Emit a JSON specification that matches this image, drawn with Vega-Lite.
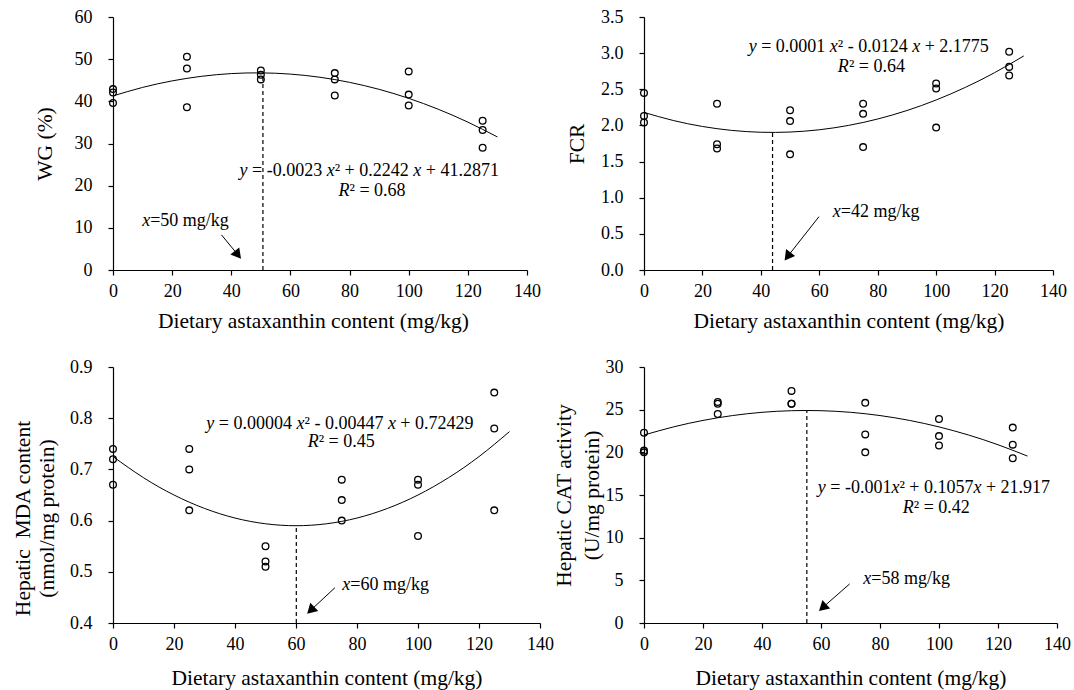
{
  "$schema": "https://vega.github.io/schema/vega-lite/v6.json",
  "background": "white",
  "padding": {"left": 12, "top": 8, "right": 3, "bottom": 3},
  "config": {
    "view": {"stroke": null},
    "font": "Liberation Serif",
    "axis": {"domainColor": "black", "tickColor": "black", "labelColor": "black", "titleColor": "black", "labelFont": "Liberation Serif", "titleFont": "Liberation Serif", "labelFontSize": 18, "titleFontSize": 21.5, "titleFontWeight": "normal", "grid": false, "tickSize": 5, "domainWidth": 1.2, "tickWidth": 1.2, "titleLineHeight": 27},
    "axisX": {"labelPadding": 7, "titlePadding": 10, "labelAngle": 0, "labelFlush": false},
    "axisY": {"labelPadding": 16, "titlePadding": 14},
    "text": {"font": "Liberation Serif", "fontSize": 18, "color": "black"}
  },
  "datasets": {
    "wg_pts": [{"x":0,"y":42.9},{"x":0,"y":42.1},{"x":0,"y":39.6},{"x":25,"y":50.6},{"x":25,"y":47.8},{"x":25,"y":38.6},{"x":50,"y":47.3},{"x":50,"y":46.3},{"x":50,"y":45.2},{"x":75,"y":46.7},{"x":75,"y":45.2},{"x":75,"y":41.4},{"x":100,"y":47.1},{"x":100,"y":41.6},{"x":100,"y":39.0},{"x":125,"y":35.4},{"x":125,"y":33.2},{"x":125,"y":29.0}],
    "wg_curve": [{"x":0,"y":41.29},{"x":10,"y":43.30},{"x":20,"y":44.85},{"x":30,"y":45.94},{"x":40,"y":46.58},{"x":50,"y":46.75},{"x":60,"y":46.46},{"x":70,"y":45.71},{"x":80,"y":44.50},{"x":90,"y":42.84},{"x":100,"y":40.71},{"x":110,"y":38.12},{"x":120,"y":35.07},{"x":130,"y":31.56}],
    "wg_drop": [{"x":50.7,"y":0,"y2":46.74}],
    "wg_arrow": [{"x":36.66,"y":8.35,"x2":42.24,"y2":3.60}],
    "wg_head": [{"x":42.24,"y":3.60}],
    "wg_it": [{"x":42.8,"y":23.45,"t":"y"},{"x":72.27,"y":23.45,"t":"x"},{"x":101.53,"y":23.45,"t":"x"},{"x":76.26,"y":18.68,"t":"R"},{"x":9.87,"y":11.53,"t":"x"}],
    "wg_tx": [{"x":47.02,"y":23.45,"t":"= -0.0023"},{"x":74.97,"y":23.45,"t":"² + 0.2242"},{"x":105.76,"y":23.45,"t":"+ 41.2871"},{"x":79.98,"y":18.68,"t":"² = 0.68"},{"x":12.57,"y":11.53,"t":"=50 mg/kg"}],

    "fcr_pts": [{"x":0,"y":2.45},{"x":0,"y":2.13},{"x":0,"y":2.04},{"x":25,"y":2.30},{"x":25,"y":1.74},{"x":25,"y":1.68},{"x":50,"y":2.21},{"x":50,"y":2.06},{"x":50,"y":1.60},{"x":75,"y":2.30},{"x":75,"y":2.16},{"x":75,"y":1.70},{"x":100,"y":2.58},{"x":100,"y":2.51},{"x":100,"y":1.97},{"x":125,"y":3.02},{"x":125,"y":2.81},{"x":125,"y":2.69}],
    "fcr_curve": [{"x":0,"y":2.18},{"x":10,"y":2.0685},{"x":20,"y":1.9856},{"x":30,"y":1.9313},{"x":40,"y":1.9056},{"x":50,"y":1.9085},{"x":60,"y":1.94},{"x":70,"y":2.0001},{"x":80,"y":2.0888},{"x":90,"y":2.2061},{"x":100,"y":2.352},{"x":110,"y":2.5265},{"x":120,"y":2.7296},{"x":130,"y":2.9613}],
    "fcr_drop": [{"x":44.0,"y":0,"y2":1.905}],
    "fcr_arrow": [{"x":59.9,"y":0.738,"x2":49.16,"y2":0.187}],
    "fcr_head": [{"x":49.16,"y":0.187}],
    "fcr_it": [{"x":35.82,"y":3.086,"t":"y"},{"x":63.60,"y":3.086,"t":"x"},{"x":91.80,"y":3.086,"t":"x"},{"x":66.36,"y":2.812,"t":"R"},{"x":64.6,"y":0.807,"t":"x"}],
    "fcr_tx": [{"x":40.10,"y":3.086,"t":"= 0.0001"},{"x":66.34,"y":3.086,"t":"² - 0.0124"},{"x":96.08,"y":3.086,"t":"+ 2.1775"},{"x":70.13,"y":2.812,"t":"² = 0.64"},{"x":67.34,"y":0.807,"t":"=42 mg/kg"}],

    "mda_pts": [{"x":0,"y":0.74},{"x":0,"y":0.72},{"x":0,"y":0.67},{"x":25,"y":0.74},{"x":25,"y":0.70},{"x":25,"y":0.62},{"x":50,"y":0.55},{"x":50,"y":0.52},{"x":50,"y":0.51},{"x":75,"y":0.68},{"x":75,"y":0.64},{"x":75,"y":0.60},{"x":100,"y":0.68},{"x":100,"y":0.67},{"x":100,"y":0.57},{"x":125,"y":0.85},{"x":125,"y":0.78},{"x":125,"y":0.62}],
    "mda_curve": [{"x":0,"y":0.725},{"x":10,"y":0.6838},{"x":20,"y":0.65},{"x":30,"y":0.6238},{"x":40,"y":0.605},{"x":50,"y":0.5938},{"x":60,"y":0.59},{"x":70,"y":0.5938},{"x":80,"y":0.605},{"x":90,"y":0.6238},{"x":100,"y":0.65},{"x":110,"y":0.6838},{"x":120,"y":0.725},{"x":130,"y":0.7738}],
    "mda_drop": [{"x":60.1,"y":0.4,"y2":0.59}],
    "mda_arrow": [{"x":72.78,"y":0.469,"x2":64.82,"y2":0.4249}],
    "mda_head": [{"x":64.82,"y":0.4249}],
    "mda_it": [{"x":30.61,"y":0.789,"t":"y"},{"x":60.16,"y":0.789,"t":"x"},{"x":90.13,"y":0.789,"t":"x"},{"x":63.82,"y":0.753,"t":"R"},{"x":75.16,"y":0.474,"t":"x"}],
    "mda_tx": [{"x":34.71,"y":0.789,"t":"= 0.00004"},{"x":62.79,"y":0.789,"t":"² - 0.00447"},{"x":94.22,"y":0.789,"t":"+ 0.72429"},{"x":67.43,"y":0.753,"t":"² = 0.45"},{"x":77.78,"y":0.474,"t":"=60 mg/kg"}],

    "cat_pts": [{"x":0,"y":22.3},{"x":0,"y":20.2},{"x":0,"y":20.0},{"x":25,"y":25.9},{"x":25,"y":25.7},{"x":25,"y":24.5},{"x":50,"y":27.2},{"x":50,"y":25.7},{"x":50,"y":25.7},{"x":75,"y":25.8},{"x":75,"y":22.1},{"x":75,"y":20.0},{"x":100,"y":23.9},{"x":100,"y":21.9},{"x":100,"y":20.8},{"x":125,"y":22.9},{"x":125,"y":20.9},{"x":125,"y":19.3}],
    "cat_curve": [{"x":0,"y":22.03},{"x":10,"y":22.98},{"x":20,"y":23.74},{"x":30,"y":24.31},{"x":40,"y":24.69},{"x":50,"y":24.88},{"x":60,"y":24.88},{"x":70,"y":24.69},{"x":80,"y":24.31},{"x":90,"y":23.74},{"x":100,"y":22.98},{"x":110,"y":22.03},{"x":120,"y":20.89},{"x":130,"y":19.56}],
    "cat_drop": [{"x":55.2,"y":0,"y2":24.9}],
    "cat_arrow": [{"x":69.71,"y":4.58,"x2":60.55,"y2":1.80}],
    "cat_head": [{"x":60.55,"y":1.80}],
    "cat_it": [{"x":58.9,"y":15.83,"t":"y"},{"x":83.86,"y":15.83,"t":"x"},{"x":111.67,"y":15.83,"t":"x"},{"x":87.72,"y":13.50,"t":"R"},{"x":74.36,"y":5.16,"t":"x"}],
    "cat_tx": [{"x":63.13,"y":15.83,"t":"= -0.001"},{"x":86.57,"y":15.83,"t":"² + 0.1057"},{"x":115.91,"y":15.83,"t":"+ 21.917"},{"x":91.45,"y":13.50,"t":"² = 0.42"},{"x":77.07,"y":5.16,"t":"=58 mg/kg"}]
  },
  "spacing": -1,
  "hconcat": [
    {
      "bounds": "flush",
      "spacing": 97,
      "vconcat": [
        {
          "width": 414, "height": 253,
          "encoding": {
            "x": {"field": "x", "type": "quantitative", "scale": {"domain": [0, 140], "nice": false}, "axis": {"values": [0,20,40,60,80,100,120,140], "title": "Dietary astaxanthin content (mg/kg)", "titleX": 200}},
            "y": {"field": "y", "type": "quantitative", "scale": {"domain": [0, 60], "nice": false}, "axis": {"values": [0,10,20,30,40,50,60], "title": "WG (%)", "titlePadding": 18}}
          },
          "layer": [
            {"data": {"name": "wg_curve"}, "mark": {"type": "line", "color": "black", "strokeWidth": 1, "interpolate": "natural"}},
            {"data": {"name": "wg_drop"}, "mark": {"type": "rule", "color": "black", "strokeDash": [4, 3], "strokeWidth": 1.2}, "encoding": {"y2": {"field": "y2"}}},
            {"data": {"name": "wg_arrow"}, "mark": {"type": "rule", "color": "black", "strokeWidth": 1}, "encoding": {"x2": {"field": "x2"}, "y2": {"field": "y2"}}},
            {"data": {"name": "wg_head"}, "mark": {"type": "point", "shape": "triangle-up", "filled": true, "color": "black", "opacity": 1, "size": 130, "angle": 141}},
            {"data": {"name": "wg_pts"}, "mark": {"type": "point", "shape": "circle", "filled": false, "color": "black", "opacity": 1, "size": 45, "strokeWidth": 1.3}},
            {"data": {"name": "wg_it"}, "mark": {"type": "text", "align": "left", "baseline": "middle", "fontStyle": "italic"}, "encoding": {"text": {"field": "t"}}},
            {"data": {"name": "wg_tx"}, "mark": {"type": "text", "align": "left", "baseline": "middle"}, "encoding": {"text": {"field": "t"}}}
          ]
        },
        {
          "width": 427, "height": 256,
          "encoding": {
            "x": {"field": "x", "type": "quantitative", "scale": {"domain": [0, 140], "nice": false}, "axis": {"values": [0,20,40,60,80,100,120,140], "title": "Dietary astaxanthin content (mg/kg)", "titlePadding": 14}},
            "y": {"field": "y", "type": "quantitative", "scale": {"domain": [0.4, 0.9], "nice": false, "zero": false}, "axis": {"values": [0.4,0.5,0.6,0.7,0.8,0.9], "format": ".1f", "title": ["Hepatic\u00a0 MDA content", "(nmol/mg protein)"], "titleY": 151, "titlePadding": 11.5, "titleLineHeight": 24}}
          },
          "layer": [
            {"data": {"name": "mda_curve"}, "mark": {"type": "line", "color": "black", "strokeWidth": 1, "interpolate": "natural"}},
            {"data": {"name": "mda_drop"}, "mark": {"type": "rule", "color": "black", "strokeDash": [4, 3], "strokeWidth": 1.2}, "encoding": {"y2": {"field": "y2"}}},
            {"data": {"name": "mda_arrow"}, "mark": {"type": "rule", "color": "black", "strokeWidth": 1}, "encoding": {"x2": {"field": "x2"}, "y2": {"field": "y2"}}},
            {"data": {"name": "mda_head"}, "mark": {"type": "point", "shape": "triangle-up", "filled": true, "color": "black", "opacity": 1, "size": 130, "angle": 226}},
            {"data": {"name": "mda_pts"}, "mark": {"type": "point", "shape": "circle", "filled": false, "color": "black", "opacity": 1, "size": 45, "strokeWidth": 1.3}},
            {"data": {"name": "mda_it"}, "mark": {"type": "text", "align": "left", "baseline": "middle", "fontStyle": "italic"}, "encoding": {"text": {"field": "t"}}},
            {"data": {"name": "mda_tx"}, "mark": {"type": "text", "align": "left", "baseline": "middle"}, "encoding": {"text": {"field": "t"}}}
          ]
        }
      ]
    },
    {
      "bounds": "flush",
      "spacing": 97,
      "vconcat": [
        {
          "width": 409, "height": 253,
          "encoding": {
            "x": {"field": "x", "type": "quantitative", "scale": {"domain": [0, 140], "nice": false}, "axis": {"values": [0,20,40,60,80,100,120,140], "title": "Dietary astaxanthin content (mg/kg)"}},
            "y": {"field": "y", "type": "quantitative", "scale": {"domain": [0, 3.5], "nice": false}, "axis": {"values": [0,0.5,1,1.5,2,2.5,3,3.5], "format": ".1f", "title": "FCR", "titlePadding": 12.5}}
          },
          "layer": [
            {"data": {"name": "fcr_curve"}, "mark": {"type": "line", "color": "black", "strokeWidth": 1, "interpolate": "natural"}},
            {"data": {"name": "fcr_drop"}, "mark": {"type": "rule", "color": "black", "strokeDash": [4, 3], "strokeWidth": 1.2}, "encoding": {"y2": {"field": "y2"}}},
            {"data": {"name": "fcr_arrow"}, "mark": {"type": "rule", "color": "black", "strokeWidth": 1}, "encoding": {"x2": {"field": "x2"}, "y2": {"field": "y2"}}},
            {"data": {"name": "fcr_head"}, "mark": {"type": "point", "shape": "triangle-up", "filled": true, "color": "black", "opacity": 1, "size": 130, "angle": 217}},
            {"data": {"name": "fcr_pts"}, "mark": {"type": "point", "shape": "circle", "filled": false, "color": "black", "opacity": 1, "size": 45, "strokeWidth": 1.3}},
            {"data": {"name": "fcr_it"}, "mark": {"type": "text", "align": "left", "baseline": "middle", "fontStyle": "italic"}, "encoding": {"text": {"field": "t"}}},
            {"data": {"name": "fcr_tx"}, "mark": {"type": "text", "align": "left", "baseline": "middle"}, "encoding": {"text": {"field": "t"}}}
          ]
        },
        {
          "width": 413, "height": 256,
          "encoding": {
            "x": {"field": "x", "type": "quantitative", "scale": {"domain": [0, 140], "nice": false}, "axis": {"values": [0,20,40,60,80,100,120,140], "title": "Dietary astaxanthin content (mg/kg)", "titlePadding": 14}},
            "y": {"field": "y", "type": "quantitative", "scale": {"domain": [0, 30], "nice": false}, "axis": {"values": [0,5,10,15,20,25,30], "title": ["Hepatic CAT activity", "(U/mg protein)"], "titlePadding": 2, "titleLineHeight": 28}}
          },
          "layer": [
            {"data": {"name": "cat_curve"}, "mark": {"type": "line", "color": "black", "strokeWidth": 1, "interpolate": "natural"}},
            {"data": {"name": "cat_drop"}, "mark": {"type": "rule", "color": "black", "strokeDash": [4, 3], "strokeWidth": 1.2}, "encoding": {"y2": {"field": "y2"}}},
            {"data": {"name": "cat_arrow"}, "mark": {"type": "rule", "color": "black", "strokeWidth": 1}, "encoding": {"x2": {"field": "x2"}, "y2": {"field": "y2"}}},
            {"data": {"name": "cat_head"}, "mark": {"type": "point", "shape": "triangle-up", "filled": true, "color": "black", "opacity": 1, "size": 130, "angle": 227.6}},
            {"data": {"name": "cat_pts"}, "mark": {"type": "point", "shape": "circle", "filled": false, "color": "black", "opacity": 1, "size": 45, "strokeWidth": 1.3}},
            {"data": {"name": "cat_it"}, "mark": {"type": "text", "align": "left", "baseline": "middle", "fontStyle": "italic"}, "encoding": {"text": {"field": "t"}}},
            {"data": {"name": "cat_tx"}, "mark": {"type": "text", "align": "left", "baseline": "middle"}, "encoding": {"text": {"field": "t"}}}
          ]
        }
      ]
    }
  ]
}
